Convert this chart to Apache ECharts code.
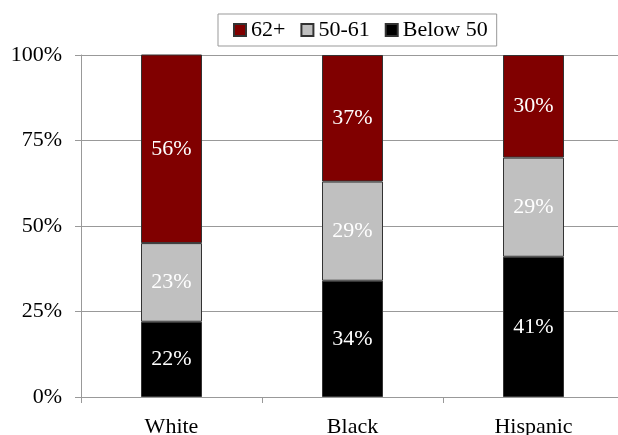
<!DOCTYPE html>
<html>
<head>
<meta charset="utf-8">
<script src="https://cdn.jsdelivr.net/npm/echarts@6/dist/echarts.min.js"></script>
<style>
  html, body { margin: 0; padding: 0; background: #fff; }
  #chart { width: 618px; height: 435px; }
</style>
</head>
<body>
<div id="chart"></div>
<script>
const categories = ['White', 'Black', 'Hispanic'];
const below50 = [22, 34, 41];
const mid5061 = [23, 29, 29];
const over62 = [56, 37, 30];
const yTicks = [0, 25, 50, 75, 100];

const serif = '"Liberation Serif", "DejaVu Serif", serif';

function seg(name, data, color) {
  return {
    name: name,
    type: 'bar',
    stack: 'total',
    data: data,
    barWidth: 61,
    clip: true,
    itemStyle: { color: color, borderColor: '#333', borderWidth: 1 },
    label: {
      show: true,
      position: 'inside',
      formatter: p => p.value + '%',
      color: '#fff',
      fontFamily: serif,
      fontSize: 22
    }
  };
}

const chart = echarts.init(document.getElementById('chart'));
chart.setOption({
  animation: false,
  legend: {
    top: 14,
    left: 218,
    data: ['62+', '50-61', 'Below 50'],
    icon: 'rect',
    itemWidth: 12,
    itemHeight: 12,
    itemGap: 15,
    padding: [5, 9, 5, 15],
    borderColor: '#999',
    borderWidth: 1,
    textStyle: { fontFamily: serif, fontSize: 22, color: '#000' }
  },
  grid: {
    left: 81, width: 543, top: 55, bottom: 38,
    outerBoundsMode: 'none', containLabel: false
  },
  xAxis: {
    type: 'category',
    data: categories,
    axisLine: { lineStyle: { color: '#999' } },
    axisTick: { show: true, length: 6, lineStyle: { color: '#999' } },
    axisLabel: { fontFamily: serif, fontSize: 22, color: '#000', margin: 19 }
  },
  yAxis: {
    type: 'value',
    min: 0,
    max: 100,
    interval: 25,
    axisLine: { show: true, lineStyle: { color: '#999' } },
    axisTick: { show: true, length: 6, lineStyle: { color: '#999' } },
    splitLine: { lineStyle: { color: '#999' } },
    axisLabel: {
      fontFamily: serif, fontSize: 22, color: '#000', margin: 19,
      formatter: v => yTicks.includes(v) ? v + '%' : ''
    }
  },
  series: [
    seg('Below 50', below50, '#000000'),
    seg('50-61', mid5061, '#c0c0c0'),
    seg('62+', over62, '#800000')
  ]
});
</script>
</body>
</html>
